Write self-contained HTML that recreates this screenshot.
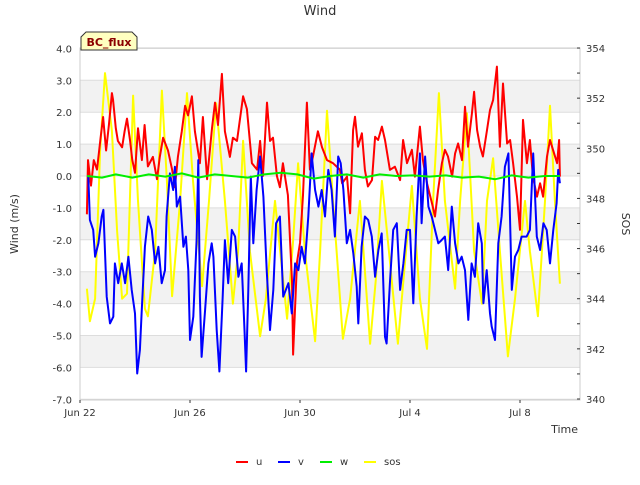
<!DOCTYPE html>
<html><head><meta charset="utf-8"><style>
body{margin:0;background:#fff;font-family:"Liberation Sans","DejaVu Sans",sans-serif}
svg text{font-family:"DejaVu Sans","Liberation Sans",sans-serif}
</style></head><body>
<svg id="c" width="640" height="480" xmlns="http://www.w3.org/2000/svg">
<text x="320" y="15" text-anchor="middle" font-size="13" fill="#333">Wind</text>
<g id="bands"></g><g id="grid"></g>
<rect x="80" y="48" width="500" height="352" fill="none" stroke="#ccc"/>
<g id="ticks"></g>
<g id="series"></g>
<path d="M81,50 L81,37 L86,32 L132,32 L137,37 L137,50 Z" fill="#ffffc0" stroke="#333"/>
<text x="109" y="46" text-anchor="middle" font-size="11" font-weight="bold" fill="#8b0000">BC_flux</text>
<text transform="translate(18,224) rotate(-90)" text-anchor="middle" font-size="11" fill="#333">Wind (m/s)</text>
<text transform="translate(622,224) rotate(90)" text-anchor="middle" font-size="11" fill="#333">SOS</text>
<text x="578" y="433" text-anchor="end" font-size="11" fill="#333">Time</text>
<g id="legend"></g>
</svg>
<script>
const xTickLabels=["Jun 22","Jun 26","Jun 30","Jul 4","Jul 8"];
const xTickDays=[0,4,8,12,16];
const yTicks=[4,3,2,1,0,-1,-2,-3,-4,-5,-6,-7];
const y2Ticks=[354,352,350,348,346,344,342,340];
const seriesNames=["u","v","w","sos"];
const uT=[0.25,0.29,0.4,0.5,0.62,0.75,0.84,0.95,1.05,1.16,1.2,1.3,1.38,1.53,1.62,1.71,1.82,1.9,2.0,2.11,2.25,2.35,2.47,2.65,2.8,2.9,3.02,3.2,3.35,3.45,3.56,3.7,3.82,3.93,4.07,4.18,4.36,4.47,4.62,4.8,4.91,5.02,5.16,5.27,5.45,5.56,5.71,5.93,6.07,6.25,6.44,6.55,6.65,6.8,6.91,7.02,7.16,7.27,7.38,7.56,7.71,7.75,7.89,8.0,8.11,8.25,8.36,8.47,8.65,8.8,8.98,9.2,9.45,9.53,9.71,9.82,9.93,10.0,10.11,10.25,10.36,10.47,10.62,10.73,10.84,10.98,11.09,11.27,11.45,11.64,11.75,11.89,12.07,12.18,12.36,12.47,12.62,12.8,12.91,13.02,13.16,13.27,13.38,13.53,13.64,13.75,13.89,14.0,14.11,14.25,14.33,14.44,14.55,14.65,14.8,14.91,15.02,15.16,15.27,15.38,15.53,15.64,15.75,15.89,16.0,16.11,16.25,16.36,16.47,16.62,16.73,16.84,16.98,17.09,17.2,17.35,17.42,17.45];
const uV=[-1.2,0.5,-0.3,0.5,0.2,1.2,1.85,0.8,1.6,2.6,2.4,1.5,1.1,0.9,1.4,1.8,1.1,0.5,0.1,1.5,0.5,1.6,0.3,0.6,-0.1,0.6,1.2,0.8,0.2,-0.35,0.6,1.4,2.2,1.9,2.5,1.4,0.4,1.85,-0.1,1.5,2.3,1.6,3.2,1.4,0.6,1.2,1.1,2.5,2.1,0.4,0.2,1.1,0.0,2.3,1.1,1.2,0.0,-0.35,0.4,-0.6,-3.3,-5.6,-2.7,-2.1,-0.6,2.3,0.2,0.6,1.4,0.9,0.5,0.4,0.2,-0.23,-0.02,-1.17,1.44,1.86,0.92,1.34,0.19,-0.33,-0.13,1.23,1.13,1.55,1.13,0.19,0.29,-0.13,1.13,0.4,0.82,-0.02,1.55,0.5,-0.23,-0.86,-1.27,-0.44,0.4,0.82,0.61,-0.02,0.71,1.02,0.5,2.17,0.92,1.96,2.64,1.44,0.92,0.61,1.44,2.07,2.38,3.43,0.92,2.9,1.02,1.13,0.4,-0.65,-1.69,1.76,0.4,1.13,-0.02,-0.65,-0.23,-0.65,0.61,1.13,0.82,0.4,1.13,-0.02];
const vT=[0.3,0.36,0.48,0.55,0.67,0.79,0.85,0.97,1.09,1.21,1.27,1.39,1.52,1.64,1.76,1.88,2.0,2.08,2.18,2.24,2.36,2.48,2.61,2.73,2.85,2.97,3.09,3.15,3.27,3.39,3.45,3.52,3.64,3.76,3.85,3.94,4.0,4.12,4.24,4.3,4.36,4.42,4.55,4.67,4.79,4.85,4.97,5.07,5.19,5.27,5.39,5.52,5.64,5.76,5.88,5.98,6.04,6.12,6.21,6.3,6.42,6.55,6.67,6.79,6.91,7.03,7.13,7.27,7.39,7.58,7.7,7.82,7.94,8.06,8.18,8.3,8.42,8.55,8.67,8.79,8.91,9.03,9.15,9.27,9.39,9.48,9.58,9.7,9.82,9.94,10.06,10.12,10.24,10.36,10.48,10.61,10.73,10.85,10.97,11.09,11.15,11.27,11.39,11.52,11.64,11.76,11.88,12.0,12.12,12.24,12.36,12.42,12.55,12.67,12.79,12.91,13.03,13.15,13.27,13.39,13.52,13.64,13.76,13.88,14.0,14.12,14.24,14.36,14.48,14.61,14.67,14.79,14.91,14.97,15.09,15.21,15.33,15.45,15.58,15.7,15.82,15.94,16.06,16.24,16.36,16.48,16.61,16.73,16.85,16.97,17.09,17.21,17.33,17.39,17.45];
const vV=[-0.02,-1.38,-1.69,-2.53,-2.11,-1.27,-1.06,-3.78,-4.62,-4.41,-2.74,-3.36,-2.74,-3.36,-2.53,-3.57,-4.31,-6.19,-5.45,-4.31,-2.22,-1.27,-1.69,-2.74,-2.22,-3.36,-2.95,-1.27,0.08,-0.44,0.29,-0.96,-0.65,-2.22,-1.9,-2.95,-5.14,-4.41,-2.01,0.5,-3.78,-5.67,-4.2,-2.74,-2.11,-2.53,-4.83,-6.13,-3.78,-2.01,-3.36,-1.69,-1.9,-3.16,-2.74,-4.83,-6.13,-3.57,-0.02,-2.11,-0.44,0.61,-0.65,-2.95,-4.83,-3.57,-1.48,-1.27,-3.78,-3.36,-4.31,-2.74,-2.95,-2.22,-2.74,-1.27,0.71,-0.44,-0.96,-0.44,-1.27,0.19,-0.44,-1.9,0.61,0.4,-0.44,-2.11,-1.69,-2.42,-3.47,-4.62,-2.22,-1.27,-1.38,-1.9,-3.16,-2.32,-1.8,-5.04,-5.25,-3.36,-1.69,-1.48,-3.57,-2.74,-1.69,-1.69,-3.99,-1.27,0.71,-1.48,0.61,-0.96,-1.27,-1.69,-2.11,-2.01,-1.9,-2.95,-0.96,-2.11,-2.74,-2.53,-2.95,-4.51,-2.74,-3.16,-1.48,-2.11,-3.99,-2.95,-4.31,-4.72,-5.14,-2.11,-1.27,0.29,0.71,-3.57,-2.53,-2.32,-1.9,-1.9,-1.69,0.71,-1.9,-2.32,-1.48,-1.69,-2.74,-1.69,-0.86,0.19,-0.23];
const wT=[0.25,0.8,1.3,1.9,2.5,3.1,3.7,4.3,4.9,5.5,6.1,6.7,7.3,7.9,8.5,9.1,9.7,10.3,10.9,11.5,12.1,12.7,13.3,13.9,14.5,15.1,15.7,16.3,16.9,17.45];
const wV=[0.0,-0.05,0.05,-0.05,0.05,-0.02,0.08,-0.05,0.05,0.0,-0.05,0.05,0.1,0.05,-0.08,0.0,0.05,-0.05,0.05,0.0,0.02,-0.02,0.02,-0.05,-0.02,-0.1,0.02,-0.05,0.0,0.0];
const sT=[0.25,0.36,0.55,0.73,0.91,1.16,1.35,1.53,1.71,1.93,2.11,2.36,2.47,2.73,2.98,3.16,3.35,3.64,3.89,4.11,4.44,4.69,4.95,5.27,5.56,5.75,5.93,6.18,6.55,6.76,7.09,7.53,7.75,7.93,8.18,8.55,8.73,8.98,9.2,9.56,9.82,10.18,10.55,10.76,10.98,11.27,11.56,11.82,12.07,12.36,12.62,12.84,13.05,13.27,13.64,13.82,14.07,14.33,14.62,14.8,15.02,15.27,15.56,15.82,16.18,16.36,16.65,16.91,17.09,17.27,17.45];
const sV=[344.4,343.1,344.0,349.9,353.0,350.7,346.7,344.0,344.2,352.1,347.9,343.6,343.3,345.9,352.3,348.7,344.1,347.9,352.2,348.7,344.5,347.9,351.8,347.9,343.8,345.9,350.3,345.9,342.5,344.0,347.9,343.2,346.3,349.4,345.9,342.3,345.9,351.5,347.9,342.4,344.0,347.9,342.2,344.8,348.7,345.5,342.2,345.5,348.5,344.0,342.0,347.9,352.2,347.9,344.4,347.9,351.4,345.9,343.8,347.9,349.6,345.9,341.7,344.0,347.9,345.9,343.3,347.9,351.7,347.9,344.6];

const NS="http://www.w3.org/2000/svg";
const X=d=>80+d*27.5, Y=v=>176-v*31.9, Y2=s=>48+(354-s)*(351/14);
function mk(tag,attrs,parent){const e=document.createElementNS(NS,tag);for(const k in attrs)e.setAttribute(k,attrs[k]);parent.appendChild(e);return e;}
const bands=document.getElementById('bands'),grid=document.getElementById('grid'),ticks=document.getElementById('ticks');
[3,1,-1,-3,-5].forEach(v=>{const r=mk('rect',{x:80,y:Y(v),width:500,height:31.9,fill:'#f2f2f2'},bands);

});
yTicks.forEach(v=>{const l=mk('line',{x1:80,x2:580,y1:Y(v),y2:Y(v),stroke:'#ddd'},grid);


const t=mk('text',{x:72,y:Y(v)+4,'text-anchor':'end','font-size':10,fill:'#333'},ticks);t.textContent=v.toFixed(1);

});
y2Ticks.forEach(s=>{const t=mk('text',{x:586,y:Y2(s)+4,'font-size':10,fill:'#333'},ticks);t.textContent=s;


mk('line',{x1:577,x2:580,y1:Y2(s),y2:Y2(s),stroke:'#333'},ticks);
if(s>340)mk('line',{x1:577,x2:580,y1:Y2(s-1),y2:Y2(s-1),stroke:'#333'},ticks);});
xTickDays.forEach((d,i)=>{mk('line',{x1:X(d),x2:X(d),y1:400,y2:403,stroke:'#333'},ticks);
const t=mk('text',{x:X(d),y:416,'text-anchor':'middle','font-size':10,fill:'#333'},ticks);t.textContent=xTickLabels[i];

});
const ser=document.getElementById('series');
function line(T,V,yf,color,name){const p=mk('path',{d:T.map((t,i)=>(i?'L':'M')+X(t).toFixed(1)+','+yf(V[i]).toFixed(1)).join(''),fill:'none',stroke:color,'stroke-width':2,'stroke-linejoin':'round'},ser);

}
line(sT,sV,Y2,'#ffff00','sos-line');
line(uT,uV,Y,'#ff0000','u-line');
line(vT,vV,Y,'#0000ff','v-line');
line(wT,wV,Y,'#00ee00','w-line');
const lg=document.getElementById('legend');
const colors=['#ff0000','#0000ff','#00ee00','#ffff00'],lx=[236,278,320,364];
seriesNames.forEach((n,i)=>{const g=mk('g',{},lg);


mk('line',{x1:lx[i],x2:lx[i]+12,y1:462,y2:462,stroke:colors[i],'stroke-width':2},g);
const t=mk('text',{x:lx[i]+20,y:465,'font-size':10,fill:'#333'},g);t.textContent=n;});
</script>
</body></html>
